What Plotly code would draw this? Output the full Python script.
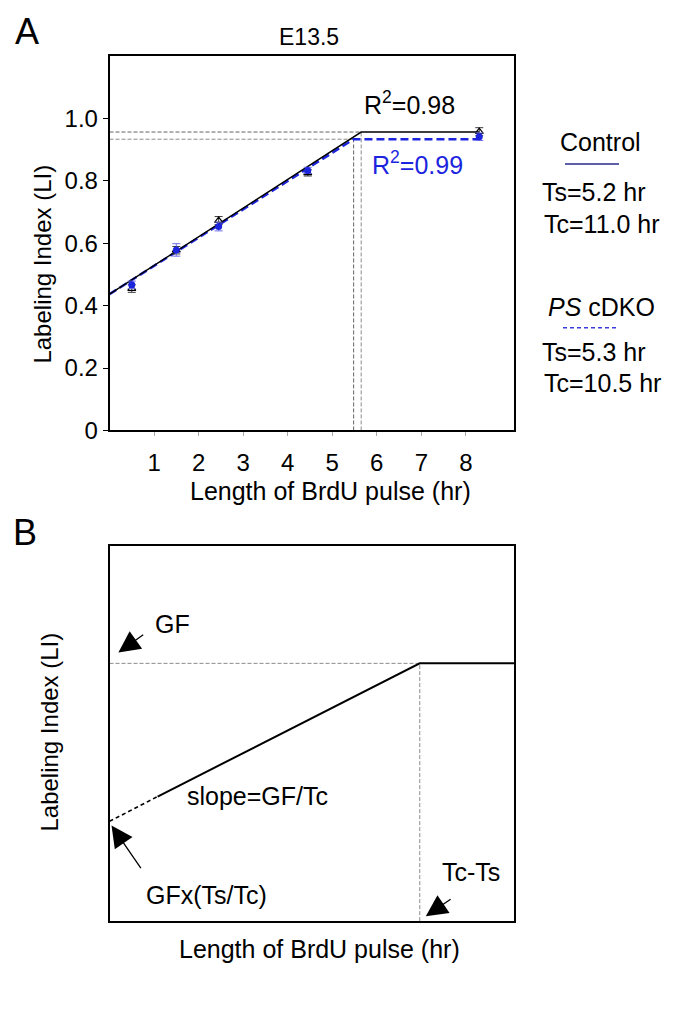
import plotly.graph_objects as go

# ---------------- Data (panel A) ----------------
pulse_hr = [0.5, 1.5, 2.45, 4.45, 8.3]
control_li = [0.455, 0.578, 0.673, 0.826, 0.958]
control_err = [0.012, 0.012, 0.013, 0.010, 0.013]
cdko_li = [0.467, 0.579, 0.654, 0.834, 0.942]
cdko_err = [0.012, 0.020, 0.014, 0.010, 0.012]

control_fit_x = [0, 5.65, 8.3]
control_fit_y = [0.437, 0.957, 0.957]
cdko_fit_x = [0, 5.48, 8.3]
cdko_fit_y = [0.437, 0.934, 0.934]

x_ticks = [1, 2, 3, 4, 5, 6, 7, 8]
y_ticks = [0, 0.2, 0.4, 0.6, 0.8, 1.0]
y_tick_labels = ["0", "0.2", "0.4", "0.6", "0.8", "1.0"]

# ---------------- Data (panel B, schematic) ----------------
schem_dash_x = [0, 1.19]
schem_dash_y = [0.266, 0.332]
schem_solid_x = [1.19, 7.67, 10]
schem_solid_y = [0.332, 0.687, 0.687]
schem_knee_x = 7.67
schem_knee_y = 0.687

# pointer arrows of panel B: (tip x, tip y, tail x, tail y)
arrow_gf = [0.22, 0.716, 0.87, 0.766]
arrow_intercept = [0.05, 0.255, 0.80, 0.137]
arrow_tcts = [7.82, 0.013, 8.47, 0.061]

FONT = "Liberation Sans, Arial, sans-serif"
W, H = 685, 1020
BLUE = "rgb(28,36,222)"
GREY = "rgb(140,140,140)"


def px(x):
    return x / W


def py(y):
    return 1 - y / H


fig = go.Figure()

# reference dashed grey lines (panel A)
fig.add_trace(go.Scatter(x=[0, control_fit_x[1]], y=[control_fit_y[1]] * 2, mode="lines",
                         line=dict(color="rgb(100,100,100)", width=1, dash="4px,2px"),
                         xaxis="x", yaxis="y", hoverinfo="skip"))
fig.add_trace(go.Scatter(x=[0, cdko_fit_x[1]], y=[cdko_fit_y[1]] * 2, mode="lines",
                         line=dict(color=GREY, width=1, dash="4px,2px"),
                         xaxis="x", yaxis="y", hoverinfo="skip"))
fig.add_trace(go.Scatter(x=[control_fit_x[1]] * 2, y=[0, control_fit_y[1]], mode="lines",
                         line=dict(color=GREY, width=1, dash="4px,2px"),
                         xaxis="x", yaxis="y", hoverinfo="skip"))
fig.add_trace(go.Scatter(x=[cdko_fit_x[1]] * 2, y=[0, cdko_fit_y[1]], mode="lines",
                         line=dict(color="rgb(100,100,100)", width=1, dash="4px,2px"),
                         xaxis="x", yaxis="y", hoverinfo="skip"))

# fits
fig.add_trace(go.Scatter(x=cdko_fit_x, y=cdko_fit_y, mode="lines",
                         line=dict(color=BLUE, width=2.5, dash="8px,4px"),
                         xaxis="x", yaxis="y"))
fig.add_trace(go.Scatter(x=control_fit_x, y=control_fit_y, mode="lines",
                         line=dict(color="black", width=1.4),
                         xaxis="x", yaxis="y"))

# data points
fig.add_trace(go.Scatter(x=pulse_hr, y=control_li, mode="markers",
                         marker=dict(symbol="triangle-up-open", size=7, color="black",
                                     line=dict(width=1.2, color="black")),
                         error_y=dict(type="data", array=control_err, color="rgb(60,60,60)",
                                      thickness=1, width=4),
                         xaxis="x", yaxis="y"))
fig.add_trace(go.Scatter(x=pulse_hr, y=cdko_li, mode="markers",
                         marker=dict(symbol="circle", size=7, color=BLUE),
                         error_y=dict(type="data", array=cdko_err, color="rgb(110,110,230)",
                                      thickness=1, width=4),
                         xaxis="x", yaxis="y"))

# panel B schematic
fig.add_trace(go.Scatter(x=[0, schem_knee_x], y=[schem_knee_y] * 2, mode="lines",
                         line=dict(color=GREY, width=1, dash="4px,2px"),
                         xaxis="x2", yaxis="y2", hoverinfo="skip"))
fig.add_trace(go.Scatter(x=[schem_knee_x] * 2, y=[0, schem_knee_y], mode="lines",
                         line=dict(color=GREY, width=1, dash="4px,2px"),
                         xaxis="x2", yaxis="y2", hoverinfo="skip"))
fig.add_trace(go.Scatter(x=schem_dash_x, y=schem_dash_y, mode="lines",
                         line=dict(color="black", width=1.6, dash="4px,3px"),
                         xaxis="x2", yaxis="y2"))
fig.add_trace(go.Scatter(x=schem_solid_x, y=schem_solid_y, mode="lines",
                         line=dict(color="black", width=2),
                         xaxis="x2", yaxis="y2"))

xdom = [px(109.5), px(514)]
axis_common = dict(showline=True, linecolor="black", linewidth=1.5, mirror=True,
                   showgrid=False, zeroline=False)

fig.update_layout(
    width=W, height=H,
    margin=dict(l=0, r=0, t=0, b=0),
    paper_bgcolor="white", plot_bgcolor="white",
    showlegend=False,
    font=dict(family=FONT, color="black"),
    xaxis=dict(domain=xdom, range=[0, 9.08], tickmode="array", tickvals=x_ticks,
               ticks="outside", ticklen=4, tickcolor="rgb(170,170,170)", tickwidth=1,
               tickfont=dict(size=24, family=FONT), ticklabelstandoff=6,
               anchor="y", **axis_common),
    yaxis=dict(domain=[py(436), py(57)], range=[0, 1.2], tickmode="array",
               tickvals=y_ticks, ticktext=y_tick_labels,
               ticks="outside", ticklen=5, tickcolor="black", tickwidth=1,
               tickfont=dict(size=24, family=FONT), anchor="x", **axis_common),
    xaxis2=dict(domain=xdom, range=[0, 10], showticklabels=False, ticks="",
                anchor="y2", **axis_common),
    yaxis2=dict(domain=[py(933), py(553)], range=[0, 1], showticklabels=False,
                ticks="", anchor="x2", **axis_common),
)

ann = []


def ptext(text, x, y, size=25, color="black", angle=0):
    ann.append(dict(text=text, x=px(x), y=py(y), xref="paper", yref="paper",
                    showarrow=False, xanchor="center", yanchor="middle",
                    textangle=angle, font=dict(size=size, color=color, family=FONT)))


ptext("A", 27, 32, size=36)
ptext("B", 25, 539, size=36)
ptext("E13.5", 309, 37, size=23)
ptext("Labeling Index (LI)", 43, 268, size=24, angle=-90)
ptext("Length of BrdU pulse (hr)", 330, 497, size=25)
ptext("Labeling Index (LI)", 50, 741, size=24, angle=-90)
ptext("Length of BrdU pulse (hr)", 319, 961, size=25)

ptext("Control", 600, 144)
ptext("Ts=5.2 hr", 594, 194)
ptext("Tc=11.0 hr", 602, 227)
ptext("<i>PS</i> cDKO", 601, 311)
ptext("Ts=5.3 hr", 594, 357)
ptext("Tc=10.5 hr", 602, 388)

# R^2 labels (data coords panel A)
ann.append(dict(text="R<sup>2</sup>=0.98", x=6.74, y=1.05, xref="x", yref="y",
                showarrow=False, font=dict(size=25, color="black", family=FONT)))
ann.append(dict(text="R<sup>2</sup>=0.99", x=6.92, y=0.858, xref="x", yref="y",
                showarrow=False, font=dict(size=25, color=BLUE, family=FONT)))


# panel B labels and arrows (data coords of x2/y2)
def btext(text, x, y):
    ann.append(dict(text=text, x=x, y=y, xref="x2", yref="y2", showarrow=False,
                    font=dict(size=25, color="black", family=FONT)))


def barrow(a):
    ann.append(dict(text="", x=a[0], y=a[1], ax=a[2], ay=a[3], xref="x2", yref="y2",
                    axref="x2", ayref="y2", showarrow=True, arrowhead=2,
                    arrowsize=3.3, arrowwidth=1.3, arrowcolor="black"))


btext("GF", 1.55, 0.792)
btext("slope=GF/Tc", 3.66, 0.334)
btext("GFx(Ts/Tc)", 2.40, 0.069)
btext("Tc-Ts", 8.94, 0.130)
barrow(arrow_gf)
barrow(arrow_intercept)
barrow(arrow_tcts)

fig.update_layout(annotations=ann)

# legend sample lines (beside panel A)
fig.add_shape(type="line", xref="paper", yref="paper", x0=px(565), x1=px(619),
              y0=py(166), y1=py(166), line=dict(color="rgb(40,40,140)", width=1.5))
fig.add_shape(type="line", xref="paper", yref="paper", x0=px(563), x1=px(618),
              y0=py(332), y1=py(332), line=dict(color="rgb(60,60,220)", width=1.5, dash="4px,3px"))

fig.write_html("out.html", config={"displayModeBar": False},
               post_script="document.body.style.margin='0';")
